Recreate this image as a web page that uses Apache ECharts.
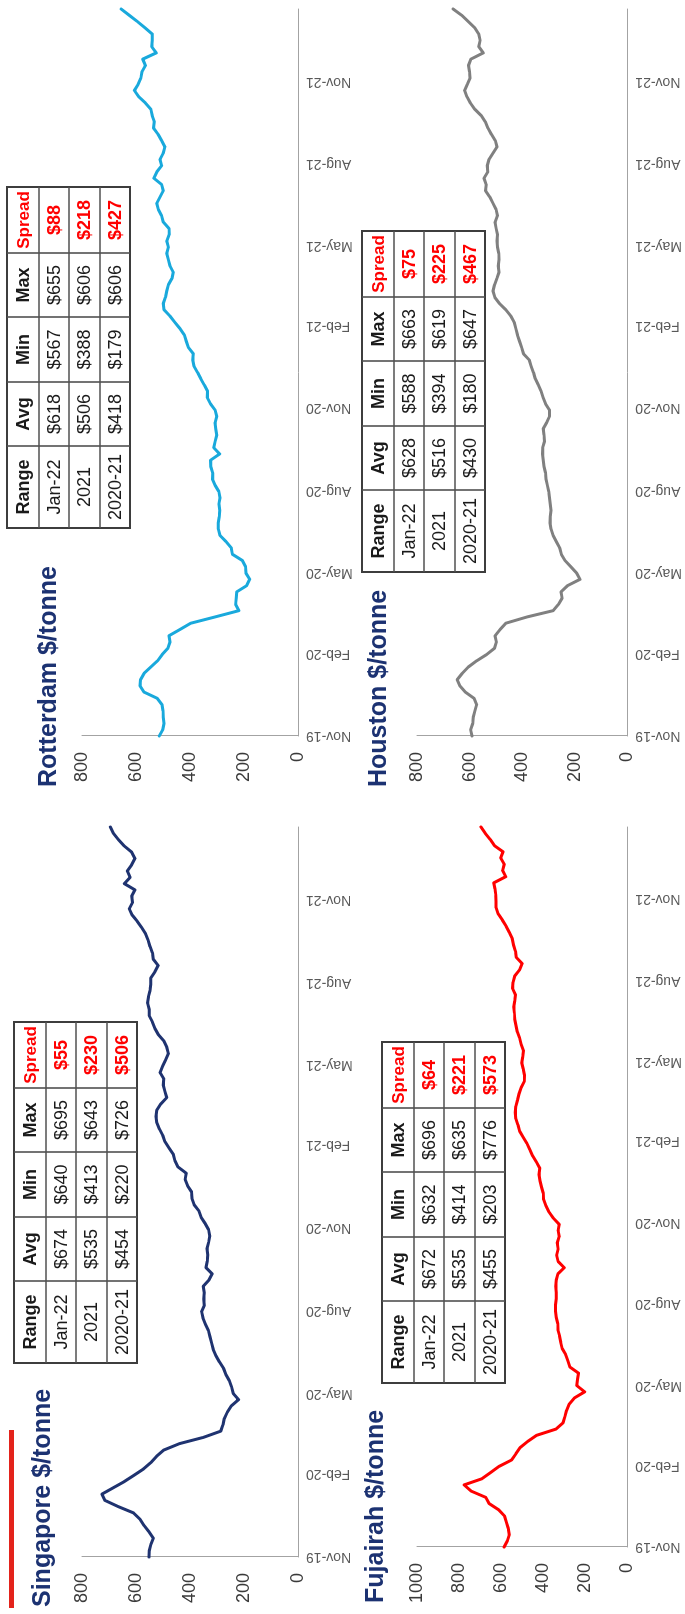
<!DOCTYPE html>
<html>
<head>
<meta charset="utf-8">
<script src="https://cdn.jsdelivr.net/npm/echarts@6/dist/echarts.min.js"></script>
<style>
  html, body { margin: 0; padding: 0; width: 685px; height: 1614px; overflow: hidden; background: #ffffff; }
  /* The dashboard is laid out landscape and turned a quarter turn counter-clockwise. */
  #chart {
    position: absolute; left: 0; top: 0;
    width: 1614px; height: 685px;
    transform-origin: 0 0;
    transform: translate(0, 1614px) rotate(-90deg);
  }
</style>
</head>
<body>
<div id="chart"></div>
<script>
// VLSFO bunker prices, $/tonne, weekly readings from 1 Nov 2019
const START_DATE = [2019, 10, 1];
const STEP_DAYS = 7;

const SINGAPORE = [
  552, 551, 545, 536, 552, 570, 585, 609, 665, 715,
  726, 684, 643, 607, 572, 545, 524, 497, 440, 351,
  286, 278, 273, 262, 247, 220, 240, 246, 254, 267,
  276, 291, 304, 314, 320, 326, 332, 343, 352, 357,
  347, 349, 347, 351, 330, 318, 341, 336, 334, 337,
  331, 327, 331, 344, 359, 367, 385, 393, 394, 409,
  418, 414, 445, 456, 462, 478, 493, 501, 513, 523,
  526, 523, 508, 486, 493, 499, 497, 511, 501, 490,
  480, 486, 497, 517, 530, 539, 551, 551, 557, 554,
  548, 545, 545, 530, 518, 536, 539, 548, 555, 564,
  579, 595, 614, 625, 613, 616, 604, 643, 622, 632,
  616, 604, 616, 644, 665, 684, 695
];

const ROTTERDAM = [
  514, 501, 496, 499, 500, 504, 521, 570, 585, 583,
  570, 545, 520, 503, 482, 474, 478, 437, 397, 307,
  219, 231, 229, 227, 190, 179, 193, 194, 206, 243,
  247, 266, 289, 295, 295, 292, 290, 293, 289, 293,
  307, 317, 316, 323, 324, 290, 312, 307, 301, 305,
  307, 301, 307, 324, 336, 335, 347, 360, 372, 385,
  390, 388, 406, 414, 421, 437, 456, 474, 496, 499,
  491, 486, 480, 467, 462, 474, 480, 486, 480, 486,
  477, 478, 499, 505, 517, 523, 511, 499, 505, 534,
  523, 505, 511, 499, 493, 505, 518, 535, 532, 540,
  545, 565, 590, 606, 592, 582, 578, 565, 575, 525,
  542, 540, 540, 567, 595, 625, 655
];

const FUJAIRAH = [
  586, 570, 561, 566, 575, 584, 612, 657, 673, 742,
  776, 691, 650, 609, 551, 530, 510, 474, 431, 339,
  306, 297, 289, 277, 252, 203, 240, 237, 232, 273,
  283, 293, 310, 317, 322, 330, 331, 338, 341, 342,
  338, 338, 340, 338, 330, 300, 329, 336, 329, 333,
  324, 329, 324, 352, 373, 387, 398, 400, 408, 415,
  420, 416, 432, 450, 463, 477, 495, 512, 520, 530,
  533, 530, 522, 515, 505, 490, 489, 495, 502, 497,
  494, 505, 512, 523, 529, 535, 537, 540, 535, 532,
  546, 543, 535, 512, 500, 528, 532, 541, 547, 561,
  576, 594, 614, 624, 624, 625, 629, 635, 578, 593,
  585, 602, 591, 632, 652, 676, 696
];

const HOUSTON = [
  591, 596, 588, 586, 580, 573, 583, 616, 637, 647,
  628, 605, 573, 535, 505, 498, 503, 484, 462, 381,
  282, 262, 248, 252, 227, 180, 193, 215, 237, 251,
  257, 270, 282, 290, 294, 293, 290, 293, 296, 299,
  304, 309, 311, 317, 320, 323, 322, 315, 317, 320,
  307, 296, 296, 311, 320, 328, 338, 350, 357, 366,
  373, 395, 402, 410, 418, 424, 430, 443, 462, 486,
  504, 511, 505, 496, 488, 491, 488, 489, 494, 496,
  494, 499, 503, 494, 499, 511, 523, 539, 537, 545,
  531, 533, 526, 511, 496, 502, 517, 530, 540, 556,
  580, 597, 610, 619, 608, 598, 600, 604, 595, 548,
  565, 560, 565, 580, 605, 630, 663
];

// Quarterly date ticks
const TICK_DATES = [
  [2019, 10, 1], [2020, 1, 1], [2020, 4, 1], [2020, 7, 1], [2020, 10, 1],
  [2021, 1, 1], [2021, 4, 1], [2021, 7, 1], [2021, 10, 1]
];
const MONTHS = ['Jan', 'Feb', 'Mar', 'Apr', 'May', 'Jun', 'Jul', 'Aug', 'Sep', 'Oct', 'Nov', 'Dec'];

// Summary tables: [avg, min, max, spread] per range
const TABLE_HEAD = ['Range', 'Avg', 'Min', 'Max', 'Spread'];
const TABLE_RANGES = ['Jan-22', '2021', '2020-21'];
const SINGAPORE_STATS = [[674, 640, 695, 55], [535, 413, 643, 230], [454, 220, 726, 506]];
const ROTTERDAM_STATS = [[618, 567, 655, 88], [506, 388, 606, 218], [418, 179, 606, 427]];
const FUJAIRAH_STATS = [[672, 632, 696, 64], [535, 414, 635, 221], [455, 203, 776, 573]];
const HOUSTON_STATS = [[628, 588, 663, 75], [516, 394, 619, 225], [430, 180, 647, 467]];

const FONT = "'Liberation Sans', Arial, Helvetica, sans-serif";
const TITLE_COLOR = '#1c3272';
const DAY_MS = 86400000;

// x positions are days counted from the first reading
const startMs = new Date(START_DATE[0], START_DATE[1], START_DATE[2]).getTime();
const dayOf = (y, m, d) => Math.round((new Date(y, m, d).getTime() - startMs) / DAY_MS);
const days = SINGAPORE.map((_, i) => i * STEP_DAYS);
const tickDays = TICK_DATES.map(d => dayOf(d[0], d[1], d[2]));

function dateLabel(v) {
  const d = new Date(START_DATE[0], START_DATE[1], START_DATE[2] + Math.round(v));
  return MONTHS[d.getMonth()] + '-' + String(d.getFullYear()).slice(2);
}

const panels = [
  { title: 'Singapore $/tonne', values: SINGAPORE, stats: SINGAPORE_STATS, color: '#1f3370', width: 3, yMax: 800,
    grid: { left: 57, top: 82, width: 730, height: 216 }, titlePos: [7, 43], tablePos: [251, 14] },
  { title: 'Rotterdam $/tonne', values: ROTTERDAM, stats: ROTTERDAM_STATS, color: '#19a9dc', width: 3, yMax: 800,
    grid: { left: 878, top: 82, width: 727, height: 216 }, titlePos: [827, 49], tablePos: [1086, 7] },
  { title: 'Fujairah $/tonne', values: FUJAIRAH, stats: FUJAIRAH_STATS, color: '#ff0000', width: 3, yMax: 1000,
    grid: { left: 67, top: 417, width: 720, height: 218 }, titlePos: [11, 376], tablePos: [231, 382] },
  { title: 'Houston $/tonne', values: HOUSTON, stats: HOUSTON_STATS, color: '#808080', width: 3, yMax: 800,
    grid: { left: 878, top: 417, width: 727, height: 216 }, titlePos: [827, 379], tablePos: [1042, 362] }
];

function tableGraphics(x0, y0, stats) {
  const colW = [82, 64, 65, 64, 66];
  const rowH = [32, 30, 31, 30];
  const xs = [x0];
  colW.forEach(w => xs.push(xs[xs.length - 1] + w));
  const ys = [y0];
  rowH.forEach(h => ys.push(ys[ys.length - 1] + h));
  const W = xs[xs.length - 1] - x0;
  const H = ys[ys.length - 1] - y0;
  const els = [];
  els.push({ type: 'rect', shape: { x: x0, y: y0, width: W, height: H },
    style: { fill: '#ffffff', stroke: '#3d3d3d', lineWidth: 2 } });
  for (let j = 1; j < xs.length - 1; j++) {
    els.push({ type: 'line', shape: { x1: xs[j], y1: y0, x2: xs[j], y2: y0 + H },
      style: { stroke: '#505050', lineWidth: 1.6 } });
  }
  for (let r = 1; r < ys.length - 1; r++) {
    els.push({ type: 'line', shape: { x1: x0, y1: ys[r], x2: x0 + W, y2: ys[r] },
      style: { stroke: '#505050', lineWidth: 1.6 } });
  }
  const rows = [TABLE_HEAD].concat(stats.map((s, r) =>
    [TABLE_RANGES[r], '$' + s[0], '$' + s[1], '$' + s[2], '$' + s[3]]));
  rows.forEach((row, r) => {
    row.forEach((txt, j) => {
      const red = j === 4;
      const bold = r === 0 || red;
      const size = (r === 0 && red) ? 17 : 18;
      els.push({ type: 'text', x: (xs[j] + xs[j + 1]) / 2, y: (ys[r] + ys[r + 1]) / 2 + 1,
        style: { text: txt, fill: red ? '#ff0000' : '#1a1a1a',
          font: (bold ? 'bold ' : '') + size + 'px ' + FONT, align: 'center', verticalAlign: 'middle' } });
    });
  });
  return els;
}

const grids = [], xAxes = [], yAxes = [], series = [], graphics = [];

// Red accent bar above the first title
graphics.push({ type: 'rect', shape: { x: 6, y: 9, width: 178, height: 5 }, style: { fill: '#e3231b' } });

panels.forEach((p, i) => {
  grids.push(Object.assign({ containLabel: false }, p.grid));
  xAxes.push({
    type: 'value', gridIndex: i,
    min: 0, max: days[days.length - 1],
    axisLine: { show: true, onZero: false, lineStyle: { color: '#a3a3a3', width: 1 } },
    axisTick: { show: false },
    splitLine: { show: false },
    axisLabel: {
      customValues: tickDays, rotate: 90, margin: 8,
      fontSize: 14, fontFamily: FONT, color: '#595959',
      formatter: dateLabel
    }
  });
  yAxes.push({
    type: 'value', gridIndex: i, min: 0, max: p.yMax, interval: 200,
    axisLine: { show: true, lineStyle: { color: '#a3a3a3', width: 1 } },
    axisTick: { show: false },
    splitLine: { show: false },
    axisLabel: { fontSize: 18, fontFamily: FONT, color: '#3a3a3a', margin: 16,
      formatter: v => String(v) }
  });
  series.push({
    type: 'line', xAxisIndex: i, yAxisIndex: i,
    data: days.map((t, k) => [t, p.values[k]]),
    showSymbol: false, symbol: 'none',
    lineStyle: { color: p.color, width: p.width, join: 'round', cap: 'round' },
    itemStyle: { color: p.color },
    animation: false
  });
  graphics.push({ type: 'text', x: p.titlePos[0], y: p.titlePos[1],
    style: { text: p.title, fill: TITLE_COLOR, font: 'bold 25px ' + FONT, align: 'left', verticalAlign: 'middle' } });
  tableGraphics(p.tablePos[0], p.tablePos[1], p.stats).forEach(e => graphics.push(e));
});

const chart = echarts.init(document.getElementById('chart'), null, { renderer: 'canvas', width: 1614, height: 685 });
chart.setOption({
  animation: false,
  backgroundColor: '#ffffff',
  grid: grids,
  xAxis: xAxes,
  yAxis: yAxes,
  series: series,
  graphic: { elements: graphics }
});
</script>
</body>
</html>
